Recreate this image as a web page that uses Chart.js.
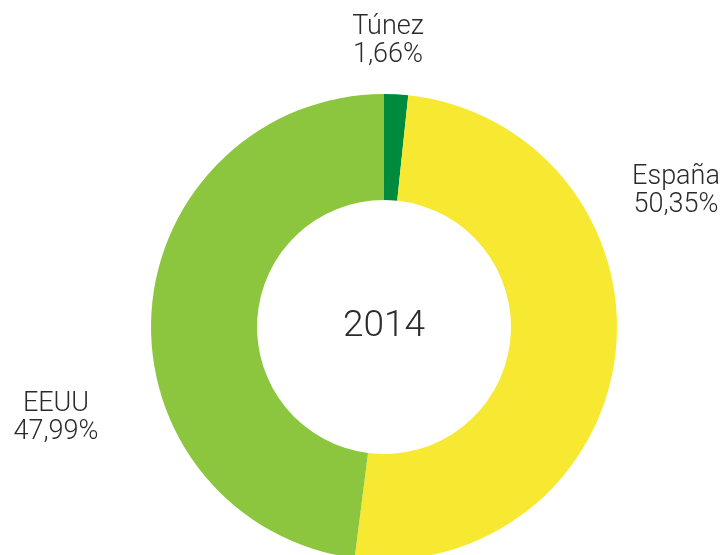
<!DOCTYPE html>
<html>
<head>
<meta charset="utf-8">
<script src="https://cdn.jsdelivr.net/npm/chart.js@4"></script>
<style>
  html, body { margin: 0; padding: 0; background: #fff; overflow: hidden; }
  #wrap { position: relative; width: 726px; height: 600px; }
</style>
</head>
<body>
<div id="wrap"><canvas id="chart"></canvas></div>
<script>
// ===== Datos =====
const countries = ["Túnez", "España", "EEUU"];
const shares = [1.66, 50.35, 47.99];
const shareLabels = ["1,66%", "50,35%", "47,99%"];
const colors = ["#008a3e", "#f7e931", "#8cc63f"];
const centerText = "2014";

const FONT = "Roboto, 'DejaVu Sans', sans-serif";
const TEXT_COLOR = "#2b2b2b";

// posiciones de las etiquetas (texto, no marcas)
const labelAnchor = [
  { x: 388, y: 27 },
  { x: 676, y: 177 },
  { x: 56, y: 404 }
];

// ===== Plugin: etiquetas y texto central =====
const textPlugin = {
  id: "textPlugin",
  afterDraw(chart) {
    const ctx = chart.ctx;
    const arc = chart.getDatasetMeta(0).data[0];
    ctx.save();
    ctx.fillStyle = TEXT_COLOR;
    ctx.textAlign = "center";
    ctx.textBaseline = "middle";

    ctx.font = "300 37px " + FONT;
    ctx.fillText(centerText, arc.x, arc.y);

    ctx.font = "300 27px " + FONT;
    countries.forEach((c, i) => {
      const p = labelAnchor[i];
      ctx.fillText(c, p.x, p.y);
      ctx.fillText(shareLabels[i], p.x, p.y + 28);
    });
    ctx.restore();
  }
};

new Chart(document.getElementById("chart"), {
  type: "doughnut",
  data: {
    labels: countries,
    datasets: [{
      data: shares,
      backgroundColor: colors,
      borderWidth: 0
    }]
  },
  options: {
    responsive: true,
    maintainAspectRatio: false,
    animation: false,
    cutout: "54.5%",
    layout: { padding: { top: 94, bottom: 40, left: 151, right: 109 } },
    plugins: {
      legend: { display: false },
      tooltip: { enabled: false }
    }
  },
  plugins: [textPlugin]
});
</script>
</body>
</html>
